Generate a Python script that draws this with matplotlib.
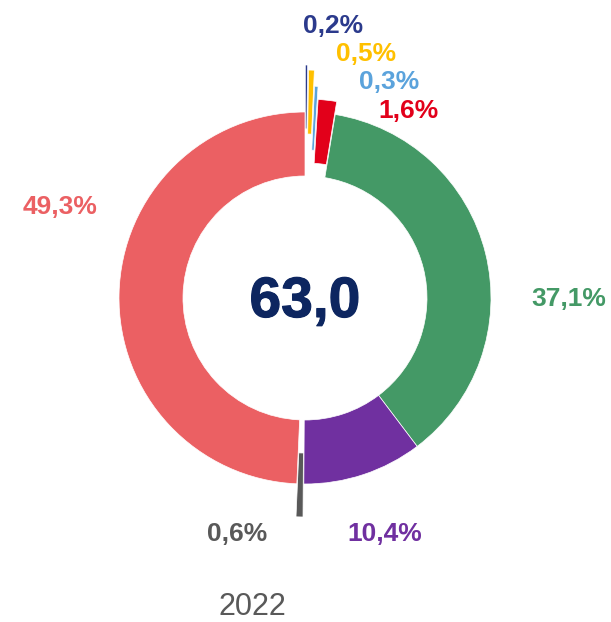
import matplotlib
matplotlib.use("Agg")
import matplotlib.pyplot as plt
import matplotlib.patheffects as pe

# shares for 2022, clockwise from the top
labels = ["0,2%", "0,5%", "0,3%", "1,6%", "37,1%", "10,4%", "0,6%", "49,3%"]
shares = [0.2, 0.5, 0.3, 1.6, 37.1, 10.4, 0.6, 49.3]
total = "63,0"
year = "2022"

colors = ["#2B3A8C", "#FFC000", "#5BA3DC", "#E2001A", "#449966", "#7030A0", "#595959", "#EB6063"]
# radial offset of the small slices (pixels)
explode = [47, 42, 26, 13, 0, 0, 33, 0]
# label anchors in pixels (centre x, baseline y from the top)
label_pos = [(333, 33), (366, 61), (389, 89), (408, 118), (569, 306), (385, 541), (237, 541), (60, 214)]

W, H = 611, 622
plt.rcParams["font.family"] = ["Liberation Sans", "DejaVu Sans"]

fig = plt.figure(figsize=(W / 100, H / 100), dpi=100)
ax = fig.add_axes([0, 0, 1, 1])
cx, cy, r = 305, H - 298, 186
ax.pie(shares, colors=colors, explode=explode, startangle=90, counterclock=False,
       center=(cx, cy), radius=r,
       wedgeprops=dict(width=64, edgecolor="white", linewidth=0.5))
ax.set_xlim(0, W)
ax.set_ylim(0, H)
ax.set_aspect("equal")
ax.axis("off")

for lab, c, (x, y) in zip(labels, colors, label_pos):
    ax.text(x, H - y, lab, color=c, fontsize=19, fontweight="bold", ha="center", va="baseline")

ax.text(cx, H - 317, total, color="#0D2660", fontsize=41, fontweight="bold",
        ha="center", va="baseline",
        path_effects=[pe.withStroke(linewidth=0.8, foreground="#0D2660")])

ax.text(252.5, H - 615, year, color="#595959", fontsize=22, ha="center", va="baseline")

fig.savefig("out.png", dpi=100)
